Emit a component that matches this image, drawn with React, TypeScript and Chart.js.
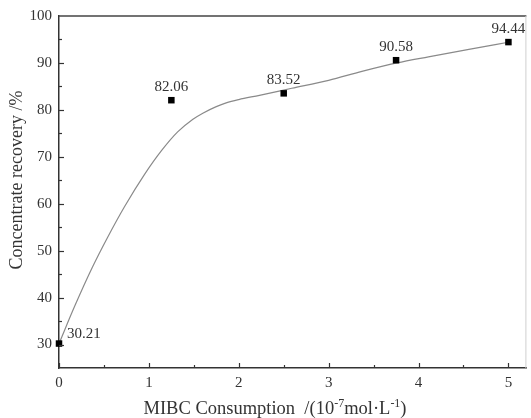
import React, { useEffect, useRef } from 'react';
import { Chart, registerables } from 'chart.js';
Chart.register(...registerables);

// measured data
const dosage = [0, 1.25, 2.5, 3.75, 5];
const recovery = [30.21, 82.06, 83.52, 90.58, 94.44];
const recoveryLabels = ['30.21', '82.06', '83.52', '90.58', '94.44'];

// fitted curve
const fitX = [0, 0.18, 0.37, 0.54, 0.73, 0.95, 1.14, 1.32, 1.49, 1.6, 1.75, 1.86, 2.0, 2.23, 2.59, 3.0, 3.37, 3.76, 4.11, 4.56, 5.0];
const fitY = [30.2, 38.4, 46.4, 52.8, 59.4, 66.2, 71.3, 75.3, 78.0, 79.3, 80.7, 81.5, 82.2, 83.1, 84.6, 86.3, 88.2, 90.0, 91.3, 92.9, 94.4];

const xMinorTicks = [0.5, 1.5, 2.5, 3.5, 4.5];
const yMinorTicks = [35, 45, 55, 65, 75, 85, 95];

const FONT = '"Liberation Serif", "Times New Roman", serif';

const decor = {
  id: 'decor',
  afterDraw(chart: any) {
    const { ctx, chartArea: a, scales } = chart;
    const x = scales.x;
    const y = scales.y;
    ctx.save();
    // top & right frame
    ctx.strokeStyle = '#444';
    ctx.lineWidth = 1.5;
    ctx.beginPath();
    ctx.moveTo(a.left, a.top);
    ctx.lineTo(a.right, a.top);
    ctx.stroke();
    ctx.strokeStyle = '#cfcfcf';
    ctx.lineWidth = 1;
    ctx.beginPath();
    ctx.moveTo(a.right - 0.5, a.top);
    ctx.lineTo(a.right - 0.5, a.bottom);
    ctx.stroke();

    // inside ticks
    ctx.strokeStyle = '#333';
    ctx.lineWidth = 1.2;
    const tickX = (v: number, len: number) => {
      const px = Math.round(x.getPixelForValue(v)) + 0.5;
      ctx.beginPath();
      ctx.moveTo(px, a.bottom);
      ctx.lineTo(px, a.bottom - len);
      ctx.stroke();
    };
    const tickY = (v: number, len: number) => {
      const py = Math.round(y.getPixelForValue(v)) + 0.5;
      ctx.beginPath();
      ctx.moveTo(a.left, py);
      ctx.lineTo(a.left + len, py);
      ctx.stroke();
    };
    x.ticks.forEach((t: any) => tickX(t.value, 5));
    xMinorTicks.forEach((v) => tickX(v, 3));
    y.ticks.forEach((t: any) => { if (t.value < 100) tickY(t.value, 5); });
    yMinorTicks.forEach((v) => tickY(v, 3));

    // value labels
    const meta = chart.getDatasetMeta(0);
    ctx.fillStyle = '#333';
    ctx.font = `15px ${FONT}`;
    ctx.textBaseline = 'alphabetic';
    meta.data.forEach((pt: any, i: number) => {
      const txt = recoveryLabels[i];
      if (i === 0) {
        ctx.textAlign = 'left';
        ctx.fillText(txt, pt.x + 8, pt.y - 6);
      } else {
        ctx.textAlign = 'center';
        ctx.fillText(txt, pt.x, pt.y - 9);
      }
    });

    // y title
    ctx.save();
    ctx.font = `18px ${FONT}`;
    ctx.fillStyle = '#333';
    ctx.textAlign = 'center';
    ctx.textBaseline = 'middle';
    ctx.translate(17, 180);
    ctx.rotate(-Math.PI / 2);
    ctx.fillText('Concentrate recovery /%', 0, 0);
    ctx.restore();

    // x title with superscripts
    const parts: [string, boolean][] = [
      ['MIBC Consumption  /(10', false],
      ['-7', true],
      ['mol·L', false],
      ['-1', true],
      [')', false],
    ];
    const big = `18.5px ${FONT}`;
    const small = `12px ${FONT}`;
    let total = 0;
    parts.forEach(([t, sup]) => {
      ctx.font = sup ? small : big;
      total += ctx.measureText(t).width;
    });
    let cx = 275 - total / 2;
    const base = 414;
    ctx.textAlign = 'left';
    ctx.textBaseline = 'alphabetic';
    parts.forEach(([t, sup]) => {
      ctx.font = sup ? small : big;
      ctx.fillText(t, cx, sup ? base - 7 : base);
      cx += ctx.measureText(t).width;
    });
    ctx.restore();
  },
};

export default function App() {
  const ref = useRef<HTMLCanvasElement>(null);
  useEffect(() => {
    if (!ref.current) return;
    const chart = new Chart(ref.current, {
      type: 'scatter',
      data: {
        datasets: [
          {
            type: 'scatter',
            data: dosage.map((v, i) => ({ x: v, y: recovery[i] })),
            pointStyle: 'rect',
            pointRadius: 4.6,
            pointHoverRadius: 4.6,
            backgroundColor: '#000',
            borderColor: '#000',
            borderWidth: 0,
            clip: false,
            order: 0,
          } as any,
          {
            type: 'line',
            data: fitX.map((v, i) => ({ x: v, y: fitY[i] })),
            borderColor: '#8a8a8a',
            borderWidth: 1.2,
            pointRadius: 0,
            fill: false,
            cubicInterpolationMode: 'monotone',
            showLine: true,
            order: 1,
          } as any,
        ],
      },
      options: {
        animation: false,
        responsive: false,
        events: [],
        layout: { padding: { left: 0, top: 16, right: 2, bottom: 0 } },
        plugins: { legend: { display: false }, tooltip: { enabled: false } },
        scales: {
          x: {
            type: 'linear',
            min: 0,
            max: 5.2,
            grid: { display: false, drawTicks: false },
            border: { display: true, color: '#333', width: 1.5 },
            ticks: {
              stepSize: 1,
              includeBounds: false,
              padding: 6,
              color: '#333',
              font: { family: FONT, size: 15 },
              maxRotation: 0,
            },
            afterFit: (s: any) => { s.height = 50; },
          },
          y: {
            type: 'linear',
            min: 25,
            max: 100,
            grid: { display: false, drawTicks: false },
            border: { display: true, color: '#333', width: 1.5 },
            ticks: {
              stepSize: 10,
              includeBounds: false,
              padding: 7,
              color: '#333',
              font: { family: FONT, size: 15 },
            },
            afterFit: (s: any) => { s.width = 59; },
          },
        },
      },
      plugins: [decor],
    });
    return () => chart.destroy();
  }, []);
  return (
    <div style={{ position: 'absolute', left: 0, top: 0, width: 531, height: 418, background: '#fff' }}>
      <canvas ref={ref} width={531} height={418} />
    </div>
  );
}
